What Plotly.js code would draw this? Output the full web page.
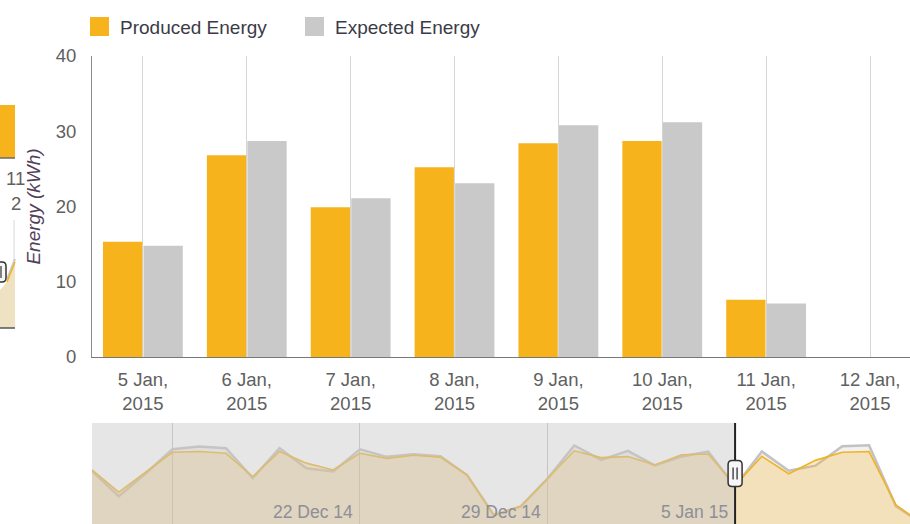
<!DOCTYPE html>
<html>
<head>
<meta charset="utf-8">
<script src="https://cdn.plot.ly/plotly-3.0.1.min.js"></script>
<style>
  html, body { margin: 0; padding: 0; background: #fff; }
  #chart { width: 910px; height: 524px; }
</style>
</head>
<body>
<div id="chart"></div>
<script>
// ---- Main chart data ----
const categories = ['5 Jan, 2015', '6 Jan, 2015', '7 Jan, 2015', '8 Jan, 2015',
                    '9 Jan, 2015', '10 Jan, 2015', '11 Jan, 2015', '12 Jan, 2015'];
const producedEnergy = [15.3, 26.8, 19.9, 25.2, 28.4, 28.7, 7.6, null];
const expectedEnergy = [14.8, 28.7, 21.1, 23.1, 30.8, 31.2, 7.1, null];
const seriesNames = ['Produced Energy', 'Expected Energy'];
const yTicks = [0, 10, 20, 30, 40];

// ---- Navigator data (daily) ----
const navDates = ['2014-12-12', '2014-12-13', '2014-12-14', '2014-12-15', '2014-12-16', '2014-12-17',
                  '2014-12-18', '2014-12-19', '2014-12-20', '2014-12-21', '2014-12-22', '2014-12-23',
                  '2014-12-24', '2014-12-25', '2014-12-26', '2014-12-27', '2014-12-28', '2014-12-29',
                  '2014-12-30', '2014-12-31', '2015-01-01', '2015-01-02', '2015-01-03', '2015-01-04',
                  '2015-01-05', '2015-01-06', '2015-01-07', '2015-01-08', '2015-01-09', '2015-01-10',
                  '2015-01-11', '2015-01-12'];
const navProduced = [21.4, 12.6, 20.5, 28.4, 28.7, 28.0, 18.8, 28.7, 24.1, 21.4, 28.0, 26.0,
                     27.2, 26.5, 19.4, 3.5, 7.0, 18.0, 29.0, 26.3, 26.7, 23.4, 27.4, 27.7,
                     15.3, 26.8, 19.9, 25.2, 28.4, 28.7, 7.6, 0];
const navExpected = [21.0, 11.0, 20.0, 29.6, 30.7, 30.0, 18.2, 30.0, 22.1, 20.8, 29.6, 26.6,
                     27.6, 26.8, 19.4, 3.5, 7.0, 18.0, 31.1, 25.4, 29.0, 23.2, 26.7, 28.7,
                     14.8, 28.7, 21.1, 23.1, 30.8, 31.2, 7.1, 0];
const navTickDates = ['2014-12-22', '2014-12-29', '2015-01-05'];
const navTickLabels = ['22 Dec 14', '29 Dec 14', '5 Jan 15'];
const navRange = ['2014-12-12 00:00', '2015-01-11 12:40'];
const selectionStart = '2015-01-05';

// ---- Styling ----
const FONT = 'Liberation Sans, Arial, sans-serif';
const producedColor = '#f6b31b';
const expectedColor = '#c9c9c9';
const W = 910, H = 524, ML = 92, MR = 0, MT = 56, MB = 0;
const px = x => (x - ML) / (W - ML - MR);
const py = y => (H - MB - y) / (H - MT - MB);

const tickText = categories.map(c => c.replace(', ', ',<br>'));

const traces = [
  {
    type: 'bar', name: seriesNames[0], x: categories, y: producedEnergy,
    marker: { color: producedColor, line: { width: 0 } },
    xaxis: 'x', yaxis: 'y', hoverinfo: 'x+y'
  },
  {
    type: 'bar', name: seriesNames[1], x: categories, y: expectedEnergy,
    marker: { color: expectedColor, line: { width: 0 } },
    xaxis: 'x', yaxis: 'y', hoverinfo: 'x+y'
  },
  {
    type: 'scatter', mode: 'lines', name: seriesNames[1] + ' (nav)', x: navDates, y: navExpected,
    line: { color: '#c2c2c2', width: 2.5 }, fill: 'tozeroy', fillcolor: 'rgba(200,200,200,0.25)',
    xaxis: 'x2', yaxis: 'y2', hoverinfo: 'skip'
  },
  {
    type: 'scatter', mode: 'lines', name: seriesNames[0] + ' (nav)', x: navDates, y: navProduced,
    line: { color: '#f1b224', width: 1.6 }, fill: 'tozeroy', fillcolor: 'rgba(246,179,27,0.25)',
    xaxis: 'x2', yaxis: 'y2', hoverinfo: 'skip'
  }
];

const shapes = [];
const annotations = [];

// Legend (custom, Highcharts style)
const legendItems = [
  { name: seriesNames[0], color: producedColor, x: 90 },
  { name: seriesNames[1], color: expectedColor, x: 305 }
];
legendItems.forEach(it => {
  shapes.push({ type: 'rect', xref: 'paper', yref: 'paper',
    x0: px(it.x), x1: px(it.x + 19), y0: py(36), y1: py(17),
    fillcolor: it.color, line: { width: 0 } });
  annotations.push({ xref: 'paper', yref: 'paper', x: px(it.x + 28), y: py(27),
    xanchor: 'left', yanchor: 'middle', showarrow: false, text: it.name,
    font: { family: FONT, size: 19, color: '#3b3b47' } });
});

// Navigator mask over the un-selected range
shapes.push({ type: 'rect', xref: 'x2', yref: 'y2 domain', layer: 'above',
  x0: navRange[0], x1: selectionStart, y0: 0, y1: 1,
  fillcolor: 'rgba(200,200,200,0.45)', line: { width: 0 } });
// Selection edge line
shapes.push({ type: 'line', xref: 'x2', yref: 'y2 domain', layer: 'above',
  x0: selectionStart, x1: selectionStart, y0: 0, y1: 1,
  line: { color: '#222', width: 2 } });
// Handle
shapes.push({ type: 'path', xref: 'x2', yref: 'y2 domain', layer: 'above',
  xsizemode: 'pixel', ysizemode: 'pixel', xanchor: selectionStart, yanchor: 0.5,
  path: 'M -3,13 L 3,13 Q 7,13 7,9 L 7,-9 Q 7,-13 3,-13 L -3,-13 Q -7,-13 -7,-9 L -7,9 Q -7,13 -3,13 Z',
  fillcolor: '#f6f6f6', line: { color: '#333', width: 1.5 } });
shapes.push({ type: 'path', xref: 'x2', yref: 'y2 domain', layer: 'above',
  xsizemode: 'pixel', ysizemode: 'pixel', xanchor: selectionStart, yanchor: 0.5,
  path: 'M -2,-6 L -2,6 M 2,-6 L 2,6',
  line: { color: '#333', width: 1.3 } });

navTickDates.forEach((d, i) => {
  annotations.push({ xref: 'x2', yref: 'y2 domain', x: d, y: 0.12,
    xanchor: 'right', yanchor: 'middle', xshift: -5, showarrow: false,
    text: navTickLabels[i], font: { family: FONT, size: 17.5, color: '#8e8e98' } });
});

// Fragment of a neighbouring chart visible at the left edge
shapes.push({ type: 'rect', xref: 'paper', yref: 'paper', layer: 'above',
  x0: px(0), x1: px(15), y0: py(158), y1: py(105), fillcolor: producedColor, line: { width: 0 } });
shapes.push({ type: 'line', xref: 'paper', yref: 'paper', layer: 'above',
  x0: px(0), x1: px(15), y0: py(158), y1: py(158), line: { color: '#6a6a6a', width: 1.5 } });
shapes.push({ type: 'line', xref: 'paper', yref: 'paper', layer: 'above',
  x0: px(14), x1: px(14), y0: py(268), y1: py(220), line: { color: '#d8d8d8', width: 1 } });
shapes.push({ type: 'path', xref: 'paper', yref: 'paper', layer: 'above',
  path: `M ${px(0)},${py(290)} L ${px(7)},${py(282)} L ${px(15)},${py(262)} L ${px(15)},${py(328)} L ${px(0)},${py(328)} Z`,
  fillcolor: '#eee2c2', line: { width: 0 } });
shapes.push({ type: 'path', xref: 'paper', yref: 'paper', layer: 'above',
  path: `M ${px(7)},${py(279)} L ${px(15)},${py(259)}`, line: { color: '#c8c8c8', width: 2 } });
shapes.push({ type: 'path', xref: 'paper', yref: 'paper', layer: 'above',
  path: `M ${px(7)},${py(282)} L ${px(15)},${py(262)}`, line: { color: '#f1b224', width: 1.5 } });
shapes.push({ type: 'line', xref: 'paper', yref: 'paper', layer: 'above',
  x0: px(0), x1: px(15), y0: py(328), y1: py(328), line: { color: '#555', width: 1.5 } });
shapes.push({ type: 'path', xref: 'paper', yref: 'paper', layer: 'above',
  path: `M ${px(-4)},${py(262)} L ${px(2)},${py(262)} Q ${px(6)},${py(262)} ${px(6)},${py(266)} L ${px(6)},${py(278)} Q ${px(6)},${py(282)} ${px(2)},${py(282)} L ${px(-4)},${py(282)} Z`,
  fillcolor: '#f6f6f6', line: { color: '#333', width: 1.5 } });
shapes.push({ type: 'line', xref: 'paper', yref: 'paper', layer: 'above',
  x0: px(1), x1: px(1), y0: py(266), y1: py(278), line: { color: '#333', width: 1.2 } });
annotations.push({ xref: 'paper', yref: 'paper', x: px(4), y: py(178), xanchor: 'left', yanchor: 'middle',
  showarrow: false, text: '11', font: { family: FONT, size: 18.5, color: '#606060' } });
annotations.push({ xref: 'paper', yref: 'paper', x: px(9), y: py(203), xanchor: 'left', yanchor: 'middle',
  showarrow: false, text: '2', font: { family: FONT, size: 18.5, color: '#606060' } });

const layout = {
  width: W, height: H,
  margin: { l: ML, r: MR, t: MT, b: MB, pad: 0 },
  paper_bgcolor: '#ffffff', plot_bgcolor: 'rgba(0,0,0,0)',
  font: { family: FONT, color: '#606060' },
  showlegend: false,
  barmode: 'group', bargap: 0.22, bargroupgap: 0.03,
  xaxis: {
    type: 'category', categoryorder: 'array', categoryarray: categories,
    range: [-0.49, 7.385], domain: [0, 1], anchor: 'y',
    tickvals: categories, ticktext: tickText,
    tickfont: { family: FONT, size: 18.5, color: '#606060' },
    showgrid: true, gridcolor: '#d6d6d6', gridwidth: 1,
    showline: true, linecolor: '#777777', linewidth: 1,
    ticks: '', ticklabelstandoff: 6, zeroline: false, fixedrange: true
  },
  yaxis: {
    range: [0, 40], domain: [py(357), 1], anchor: 'x',
    tickvals: yTicks,
    tickfont: { family: FONT, size: 18.5, color: '#606060' },
    showgrid: false, zeroline: false,
    showline: true, linecolor: '#8c8c8c', linewidth: 1,
    ticks: '', ticklabelstandoff: 11,
    title: { text: '<i>Energy (kWh)</i>', standoff: 10,
             font: { family: FONT, size: 19, color: '#52405a' } },
    fixedrange: true
  },
  xaxis2: {
    type: 'date', range: navRange, domain: [0, 1], anchor: 'y2',
    tick0: '2014-12-15', dtick: 7 * 86400000,
    showgrid: true, gridcolor: '#c4c4c4', gridwidth: 1,
    showticklabels: false, showline: false, zeroline: false, ticks: '', fixedrange: true
  },
  yaxis2: {
    range: [0, 40], domain: [0, py(423)], anchor: 'x2',
    showgrid: false, showticklabels: false, showline: false, zeroline: false, ticks: '', fixedrange: true
  },
  shapes: shapes,
  annotations: annotations
};

Plotly.newPlot('chart', traces, layout, { displayModeBar: false, staticPlot: true });
</script>
</body>
</html>
